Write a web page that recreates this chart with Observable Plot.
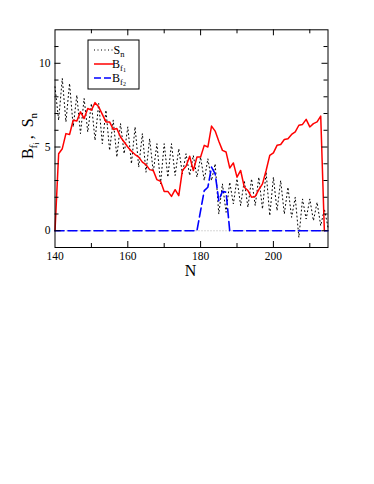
<!DOCTYPE html>
<html><head><meta charset="utf-8">
<script src="https://cdn.jsdelivr.net/npm/d3@7"></script>
<script src="https://cdn.jsdelivr.net/npm/@observablehq/plot@0.6"></script>
<style>html,body{margin:0;padding:0;background:#fff;overflow:hidden}</style>
</head><body><div id="chart"></div>
<script>
// Neutron number N
const nSn = [140,141,142,143,144,145,146,147,148,149,150,151,152,153,154,155,156,157,158,159,
  160,161,162,163,164,165,166,167,168,169,170,171,172,173,174,175,176,177,178,179,
  180,181,182,183,184,185,186,187,188,189,190,191,192,193,194,195,196,197,198,199,
  200,201,202,203,204,205,206,207,208,209,210,211,212,213,214,215];
// S_n (MeV)
const snValues = [8.6,6.6,9.1,6.5,8.8,6.2,8.1,5.8,7.9,5.9,7.6,5.4,7.6,5.2,7.2,4.8,6.6,4.4,6.4,4.6,
  6.2,4.0,6.2,3.8,5.8,3.5,5.5,3.5,5.2,2.8,5.2,3.2,5.2,3.3,4.9,3.4,4.6,3.3,4.5,3.2,
  4.4,3.0,4.3,3.0,4.0,1.0,2.8,1.1,2.9,1.6,3.1,1.5,3.0,1.4,3.1,1.5,3.2,1.3,3.5,0.9,
  3.2,1.2,3.0,1.0,2.6,0.8,2.0,-0.4,1.9,0.7,1.9,0.6,1.7,0.3,1.3,0.2];
// B_f1
const nBf1 = [140,141,142,143,144,145,146,147,148,149,150,151,152,153,154,155,156,157,158,159,
  160,161,162,163,164,165,166,167,168,169,170,171,172,173,174,175,176,177,178,179,
  180,181,182,183,184,185,186,187,188,189,190,191,192,193,194,195,196,197,198,199,
  200,201,202,203,204,205,206,207,208,209,210,211,212,213,214];
const bf1Values = [0,4.6,4.9,5.8,5.75,6.6,6.55,7.1,6.7,7.3,7.2,7.65,7.4,6.95,6.5,6.5,6.05,6.1,5.6,5.3,
  5.0,4.75,4.55,4.4,4.1,3.95,3.65,3.6,3.05,2.95,2.35,2.35,2.05,2.45,2.1,3.6,3.85,4.45,3.6,4.4,
  4.4,5.1,5.0,6.25,5.95,5.35,4.8,4.7,3.75,4.05,3.2,3.6,2.6,2.4,2.0,2.05,2.45,2.8,3.6,4.5,
  4.65,5.1,5.15,5.45,5.5,5.75,5.9,6.3,6.35,6.65,6.2,6.4,6.5,6.85,0];
// B_f2
const nBf2 = [140,179,180,181,182,183,184,185,186,187,188,215];
const bf2Values = [0,0,1.2,2.4,2.6,3.8,3.4,1.8,2.35,2.3,0,0];

const xMajor = [140,160,180,200];
const xMinor = [150,170,190,210];
const yMajor = [0,5,10];
const yMinor = [1,2,3,4,6,7,8,9,11];

const snData = nSn.map((n,i)=>({n, v: snValues[i]}));
const bf1Data = nBf1.map((n,i)=>({n, v: bf1Values[i]}));
const bf2Data = nBf2.map((n,i)=>({n, v: bf2Values[i]}));

const W=374, H=484, mL=54.5, mR=46.5, mT=29.3, mB=237;
const fw = W-mL-mR, fh = H-mT-mB;
const serif = "'Liberation Serif','Times New Roman',serif";

const svg = Plot.plot({
  width: W, height: H,
  marginLeft: mL, marginRight: mR, marginTop: mT, marginBottom: mB,
  style: {fontFamily: serif, fontSize: "11.5px", background: "#fff", color: "#000", overflow: "visible"},
  x: {domain: [140, 215], label: null},
  y: {domain: [-1, 12], label: null},
  marks: [
    Plot.ruleY([0], {stroke: "#9a9a9a", strokeWidth: 0.8, strokeDasharray: "1,2"}),
    Plot.line(snData, {x: "n", y: "v", stroke: "#000", strokeWidth: 1, strokeDasharray: "1,3"}),
    Plot.line(bf1Data, {x: "n", y: "v", stroke: "#ff0000", strokeWidth: 1.5}),
    Plot.line(bf2Data, {x: "n", y: "v", stroke: "#0000ff", strokeWidth: 1.6, strokeDasharray: "9,4"}),
    // inward ticks
    Plot.ruleX(xMajor.slice(1), {x: d=>d, insetTop: fh-6, stroke: "#000"}),
    Plot.ruleX(xMajor.slice(1), {x: d=>d, insetBottom: fh-6, stroke: "#000"}),
    Plot.ruleX(xMinor, {x: d=>d, insetTop: fh-4, stroke: "#000"}),
    Plot.ruleX(xMinor, {x: d=>d, insetBottom: fh-4, stroke: "#000"}),
    Plot.ruleY(yMajor, {y: d=>d, insetRight: fw-6, stroke: "#000"}),
    Plot.ruleY(yMajor, {y: d=>d, insetLeft: fw-6, stroke: "#000"}),
    Plot.ruleY(yMinor, {y: d=>d, insetRight: fw-4, stroke: "#000"}),
    Plot.ruleY(yMinor, {y: d=>d, insetLeft: fw-4, stroke: "#000"}),
    Plot.frame({stroke: "#000", strokeWidth: 1}),
    Plot.axisX({ticks: xMajor, tickSize: 0, tickPadding: 4.5, tickFormat: d=>String(d), label: null, fontSize: 11.5}),
    Plot.axisY({ticks: yMajor, tickSize: 0, tickPadding: 4.5, tickFormat: d=>String(d), label: null, fontSize: 11.5})
  ]
});
document.getElementById("chart").appendChild(svg);

const s = d3.select(svg);
// x label
s.append("text").attr("x", 190.5).attr("y", 276).attr("text-anchor","middle")
  .attr("font-family", serif).attr("font-size", 16).attr("fill","#000").text("N");
// y label
const yl = s.append("text").attr("transform","translate(33,136) rotate(-90)")
  .attr("text-anchor","middle").attr("font-family", serif).attr("font-size", 16).attr("fill","#000");
yl.append("tspan").text("B");
yl.append("tspan").attr("font-size", 11).attr("dy", 3.5).text("f");
yl.append("tspan").attr("font-size", 8).attr("dy", 2).text("i");
yl.append("tspan").attr("font-size", 16).attr("dy", -5.5).text("\u2009,\u2002S");
yl.append("tspan").attr("font-size", 11).attr("dy", 3.5).text("n");

// legend
const lg = s.append("g").attr("font-family", serif).attr("fill","#000");
lg.append("rect").attr("x", 88).attr("y", 40).attr("width", 51).attr("height", 49)
  .attr("fill","#fff").attr("stroke","#000").attr("stroke-width",1);
const rows = [
  {y: 50, stroke: "#000", dash: "1,2.5", w: 1.1, main: "S", sub: "n", sub2: null},
  {y: 64, stroke: "#ff0000", dash: null, w: 1.5, main: "B", sub: "f", sub2: "1"},
  {y: 78, stroke: "#0000ff", dash: "7,3", w: 1.6, main: "B", sub: "f", sub2: "2"}
];
rows.forEach(r => {
  const l = lg.append("line").attr("x1", 94).attr("x2", 114).attr("y1", r.y).attr("y2", r.y)
    .attr("stroke", r.stroke).attr("stroke-width", r.w);
  if (r.dash) l.attr("stroke-dasharray", r.dash);
  const t = lg.append("text").attr("x", 119).attr("y", r.y + 4).attr("font-size", 12);
  t.append("tspan").text(r.main);
  t.append("tspan").attr("font-size", 8.5).attr("dy", 2.5).text(r.sub);
  if (r.sub2) t.append("tspan").attr("font-size", 6).attr("dy", 1.5).text(r.sub2);
});
</script>
</body></html>
